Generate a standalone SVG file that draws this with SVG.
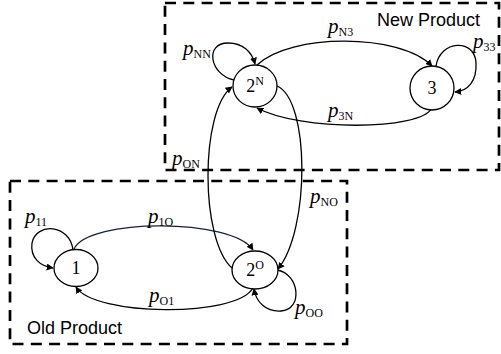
<svg xmlns="http://www.w3.org/2000/svg" width="501" height="354" viewBox="0 0 501 354">
  <defs>
    <marker id="arrow" viewBox="0 0 10 10" refX="9" refY="5" markerWidth="7" markerHeight="7" markerUnits="userSpaceOnUse" orient="auto">
      <path d="M0,0 L10,5 L0,10 Z" fill="#000"/>
    </marker>
    <style>
      .box { fill: none; stroke: #000; stroke-width: 2.7; stroke-dasharray: 11 7.3; }
      .node { fill: #fff; stroke: #000; stroke-width: 1.3; }
      .edge { fill: none; stroke: #000; stroke-width: 1.3; marker-end: url(#arrow); }
      .nlabel { font-family: "Liberation Serif", "Times New Roman", serif; font-size: 18px; fill: #000; }
      .prob { font-family: "Liberation Serif", "Times New Roman", serif; font-style: italic; font-size: 21px; fill: #000; }
      .sub { font-style: normal; font-size: 12px; }
      .title { font-family: "Liberation Sans", Arial, sans-serif; font-size: 18px; fill: #000; }
    </style>
  </defs>

  <!-- group boundaries -->
  <rect class="box" x="165" y="3" width="334" height="167"/>
  <rect class="box" x="10" y="181" width="337" height="163"/>
  <text class="title" x="377" y="26">New Product</text>
  <text class="title" x="27" y="334">Old Product</text>

  <!-- transitions -->
  <g id="connectors">
    <path class="edge" d="M74,249 C88,218 232,218 253,250" style="stroke:#16223c"/>
    <path class="edge" d="M253,288 C236,318 94,316 76,287"/>
    <path class="edge" d="M73,250 C70,224 36,222 32,243 C30,258 40,266 53,268"/>
    <path class="edge" d="M277,270 C300,274 303,310 281,311 C266,312 256,302 254,289"/>
    <path class="edge" d="M257,65 C290,33 400,33 432,66"/>
    <path class="edge" d="M432,108 C420,131 300,131 257,108"/>
    <path class="edge" d="M234,80 C210,75 204,43 228,43 C243,43 252,52 255,64"/>
    <path class="edge" d="M436,66 C440,40 475,38 476,63 C477,81 468,91 455,92"/>
    <path class="edge" d="M277,86 C310,100 310,230 278,269"/>
    <path class="edge" d="M232,268 C200,240 200,110 232,87"/>
  </g>

  <!-- states -->
  <g id="node-1">
    <ellipse class="node" cx="76" cy="268" rx="22" ry="18.5"/>
    <text class="nlabel" x="76" y="274" text-anchor="middle">1</text>
  </g>
  <g id="node-2O">
    <ellipse class="node" cx="255" cy="270" rx="23" ry="19"/>
    <text class="nlabel" x="255" y="276" text-anchor="middle">2<tspan font-size="12" dy="-7">O</tspan></text>
  </g>
  <g id="node-2N">
    <ellipse class="node" cx="255" cy="86" rx="22" ry="21"/>
    <text class="nlabel" x="255" y="92" text-anchor="middle">2<tspan font-size="12" dy="-7">N</tspan></text>
  </g>
  <g id="node-3">
    <ellipse class="node" cx="432" cy="88" rx="22" ry="22"/>
    <text class="nlabel" x="432" y="94" text-anchor="middle">3</text>
  </g>

  <!-- transition probabilities -->
  <g id="labels">
    <text class="prob" x="183" y="55">p<tspan class="sub" dy="3">NN</tspan></text>
    <text class="prob" x="328" y="33">p<tspan class="sub" dy="3">N3</tspan></text>
    <text class="prob" x="473" y="48">p<tspan class="sub" dy="3">33</tspan></text>
    <text class="prob" x="328" y="117">p<tspan class="sub" dy="3">3N</tspan></text>
    <text class="prob" x="172" y="165">p<tspan class="sub" dy="3">ON</tspan></text>
    <text class="prob" x="310" y="203">p<tspan class="sub" dy="3">NO</tspan></text>
    <text class="prob" x="25" y="223">p<tspan class="sub" dy="3">11</tspan></text>
    <text class="prob" x="148" y="223">p<tspan class="sub" dy="3">1O</tspan></text>
    <text class="prob" x="149" y="302">p<tspan class="sub" dy="3">O1</tspan></text>
    <text class="prob" x="295" y="314">p<tspan class="sub" dy="3">OO</tspan></text>
  </g>
</svg>
